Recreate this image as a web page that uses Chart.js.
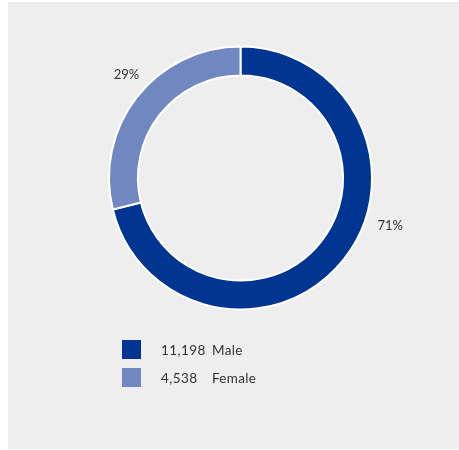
<!DOCTYPE html>
<html>
<head>
<meta charset="utf-8">
<script src="https://cdn.jsdelivr.net/npm/chart.js@4/dist/chart.umd.min.js"></script>
<style>
  html, body { margin: 0; padding: 0; background: #ffffff; }
  #wrap { position: relative; width: 459px; height: 450px; }
  #panel { position: absolute; left: 8px; top: 2px; width: 451px; height: 447px; background: #eeeeee; }
  #chart { position: absolute; left: 0; top: 0; }
  #legend { position: absolute; left: 122px; top: 340px; font-family: "Lato", sans-serif; font-size: 13.5px; color: #333333; }
  .row { position: relative; height: 28px; }
  .sw { position: absolute; left: 0; top: 0; width: 19px; height: 19px; }
  .num { position: absolute; left: 39px; top: 1px; line-height: 19px; letter-spacing: 0.4px; }
  .lab { position: absolute; left: 90px; top: 1px; line-height: 19px; letter-spacing: 0.3px; }
</style>
</head>
<body>
<div id="wrap">
  <div id="panel"></div>
  <canvas id="chart" width="459" height="450"></canvas>
  <div id="legend"></div>
</div>
<script>
// Workforce split by gender
const categories = ["Male", "Female"];
const headcount = [11198, 4538];
const shareLabels = ["71%", "29%"];
const colors = ["#003591", "#7087c0"];

// Where each percentage sits along its slice (fraction of the arc) and how far out
const labelPlacement = [{ along: 0.42, radius: 157 }, { along: 0.54, radius: 154 }];

const outsideLabels = {
  id: "outsideLabels",
  afterDatasetsDraw(chart) {
    const ctx = chart.ctx;
    const meta = chart.getDatasetMeta(0);
    ctx.save();
    ctx.font = "13px Lato, sans-serif";
    ctx.fillStyle = "#333333";
    ctx.textAlign = "center";
    ctx.textBaseline = "middle";
    meta.data.forEach((arc, i) => {
      const p = labelPlacement[i];
      const a = arc.startAngle + (arc.endAngle - arc.startAngle) * p.along;
      const x = arc.x + Math.cos(a) * p.radius;
      const y = arc.y + Math.sin(a) * p.radius;
      ctx.fillText(shareLabels[i], x, y);
    });
    ctx.restore();
  }
};

new Chart(document.getElementById("chart"), {
  type: "doughnut",
  data: {
    labels: categories,
    datasets: [{
      data: headcount,
      backgroundColor: colors,
      borderColor: "#ffffff",
      borderWidth: 2,
      hoverOffset: 0
    }]
  },
  options: {
    responsive: false,
    animation: false,
    cutout: "78%",
    layout: { padding: { left: 108, right: 86, top: 45.5, bottom: 139.5 } },
    plugins: { legend: { display: false }, tooltip: { enabled: false } }
  },
  plugins: [outsideLabels]
});

// Legend rows: swatch, headcount, category
const legend = document.getElementById("legend");
categories.forEach((name, i) => {
  const row = document.createElement("div");
  row.className = "row";
  row.innerHTML = '<div class="sw" style="background:' + colors[i] + '"></div>' +
    '<span class="num">' + headcount[i].toLocaleString("en-US") + '</span>' +
    '<span class="lab">' + name + '</span>';
  legend.appendChild(row);
});
</script>
</body>
</html>
